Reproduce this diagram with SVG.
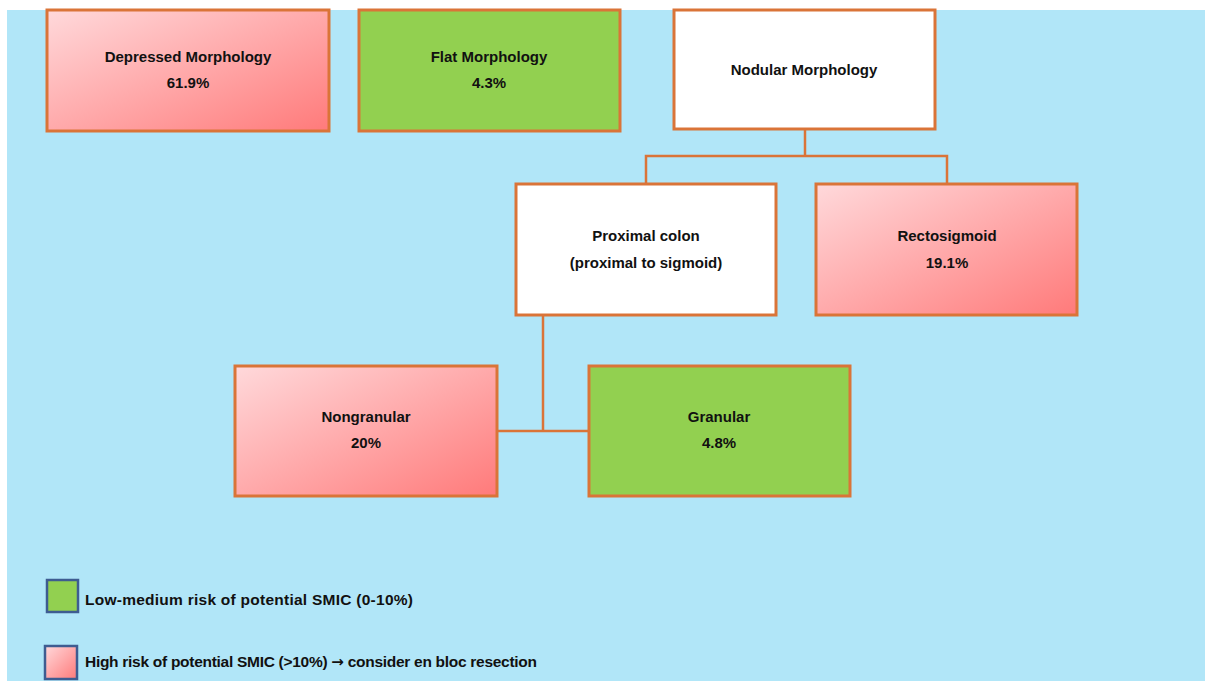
<svg xmlns="http://www.w3.org/2000/svg" width="1205" height="681" viewBox="0 0 1205 681">
  <defs>
    <linearGradient id="pinkFill" x1="0" y1="0" x2="1" y2="1">
      <stop offset="0" stop-color="#FFD9DB"/>
      <stop offset="1" stop-color="#FF7A7A"/>
    </linearGradient>
    <style>
      .box { stroke: #DA7438; stroke-width: 3; }
      .high { fill: url(#pinkFill); }
      .low { fill: #92D050; }
      .neutral { fill: #FFFFFF; }
      .lbl { font-family: "Liberation Sans", Arial, sans-serif; font-weight: bold; font-size: 15px; fill: #111111; text-anchor: middle; }
      .key { stroke: #3E5C91; stroke-width: 2.5; }
      .keytxt { font-family: "Liberation Sans", Arial, sans-serif; font-weight: bold; font-size: 15.5px; fill: #111111; }
      .arrow { font-family: "DejaVu Sans", sans-serif; font-size: 15px; }
      .link { fill: none; stroke: #DA7438; stroke-width: 2.5; }
    </style>
  </defs>

  <rect x="0" y="0" width="1205" height="681" fill="#FFFFFF"/>
  <rect x="7" y="10" width="1198" height="671" fill="#B1E6F8"/>

  <g id="connectors">
    <polyline class="link" points="805,130 805,156"/>
    <polyline class="link" points="646,184 646,156 947,156 947,184"/>
    <polyline class="link" points="543,315 543,431"/>
    <polyline class="link" points="497,431 589,431"/>
  </g>

  <g id="depressed">
    <rect class="box high" x="47" y="10" width="282" height="121"/>
    <text class="lbl" x="188" y="62">Depressed Morphology</text>
    <text class="lbl" x="188" y="88">61.9%</text>
  </g>

  <g id="flat">
    <rect class="box low" x="359" y="10" width="261" height="121"/>
    <text class="lbl" x="489" y="62">Flat Morphology</text>
    <text class="lbl" x="489" y="88">4.3%</text>
  </g>

  <g id="nodular">
    <rect class="box neutral" x="674" y="10" width="261" height="119"/>
    <text class="lbl" x="804" y="75">Nodular Morphology</text>
  </g>

  <g id="proximal">
    <rect class="box neutral" x="516" y="184" width="260" height="131"/>
    <text class="lbl" x="646" y="241">Proximal colon</text>
    <text class="lbl" x="646" y="268">(proximal to sigmoid)</text>
  </g>

  <g id="rectosigmoid">
    <rect class="box high" x="816" y="184" width="261" height="131"/>
    <text class="lbl" x="947" y="241">Rectosigmoid</text>
    <text class="lbl" x="947" y="268">19.1%</text>
  </g>

  <g id="nongranular">
    <rect class="box high" x="235" y="366" width="262" height="130"/>
    <text class="lbl" x="366" y="422">Nongranular</text>
    <text class="lbl" x="366" y="448">20%</text>
  </g>

  <g id="granular">
    <rect class="box low" x="589" y="366" width="261" height="130"/>
    <text class="lbl" x="719" y="422">Granular</text>
    <text class="lbl" x="719" y="448">4.8%</text>
  </g>

  <g id="legend">
    <rect class="key low" x="47" y="580" width="31" height="32"/>
    <text class="keytxt" x="85" y="605" textLength="328" lengthAdjust="spacing">Low-medium risk of potential SMIC (0-10%)</text>
    <rect class="key high" x="45" y="646" width="32" height="33"/>
    <text class="keytxt" x="85" y="667" textLength="452" lengthAdjust="spacing">High risk of potential SMIC (&gt;10%) <tspan class="arrow">→</tspan> consider en bloc resection</text>
  </g>
</svg>
